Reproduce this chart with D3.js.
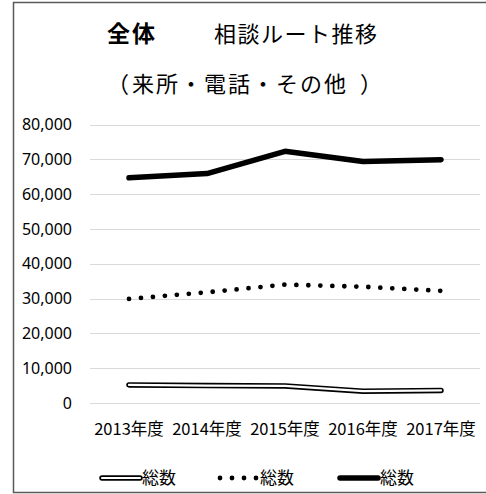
<!DOCTYPE html>
<html>
<head>
<meta charset="utf-8">
<script src="https://cdn.jsdelivr.net/npm/d3@7"></script>
<style>
  body { margin: 0; background: #fff; }
  svg { display: block; }
  text { font-family: "Noto Sans CJK JP", "Noto Sans", sans-serif; fill: #000; }
</style>
</head>
<body>
<svg id="chart" width="486" height="494"></svg>
<script>
// data
var years = ["2013年度", "2014年度", "2015年度", "2016年度", "2017年度"]
var raihoValues = [5200, 5000, 4900, 3400, 3600]        // double line
var denwaValues = [29900, 31800, 34000, 33400, 32200]   // dotted line
var totalValues = [64700, 65900, 72300, 69400, 69900]   // thick line
var seriesNames = ["総数", "総数", "総数"]
var yTicks = [0, 10000, 20000, 30000, 40000, 50000, 60000, 70000, 80000]

var svg = d3.select("#chart")

// chart frame
svg.append("rect")
  .attr("x", 13.5).attr("y", 2.5)
  .attr("width", 480).attr("height", 490)
  .attr("fill", "#fff")
  .attr("stroke", "#595959")
  .attr("stroke-width", 1.5)

// title
svg.append("text")
  .attr("x", 107).attr("y", 42)
  .style("font-size", "23px").style("font-weight", "bold")
  .style("letter-spacing", "2px")
  .text("全体")
svg.append("text")
  .attr("x", 214).attr("y", 42)
  .style("font-size", "22px")
  .style("letter-spacing", "1.5px")
  .text("相談ルート推移")
var sub = svg.append("text")
  .attr("y", 92)
  .style("font-size", "22px")
  .style("letter-spacing", "2px")
sub.append("tspan").attr("x", 107).text("（")
sub.append("tspan").attr("x", 132).text("来所・電話・その他")
sub.append("tspan").attr("x", 360).text("）")

var x = d3.scaleBand().domain(years).range([90, 480])
var y = d3.scaleLinear().domain([0, 80000]).range([403, 124.5])

// gridlines
svg.append("g")
  .selectAll("line")
  .data(yTicks)
  .enter()
  .append("line")
  .attr("x1", 90).attr("x2", 480)
  .attr("y1", function (d) { return Math.round(y(d)) + 0.5 })
  .attr("y2", function (d) { return Math.round(y(d)) + 0.5 })
  .attr("stroke", "#d9d9d9")
  .attr("stroke-width", 1)

// y axis labels
var yAxis = d3.axisLeft(y).tickValues(yTicks).tickSize(0).tickPadding(0)
  .tickFormat(d3.format(","))
svg.append("g")
  .attr("transform", "translate(72,0)")
  .call(yAxis)
  .call(function (g) { g.select(".domain").remove() })
  .selectAll("text")
  .style("font-family", "'Noto Sans', sans-serif")
  .style("font-size", "16px")
  .attr("fill", "#000")

// x axis labels
var xAxis = d3.axisBottom(x).tickSize(0).tickPadding(0)
svg.append("g")
  .attr("transform", "translate(0,423)")
  .call(xAxis)
  .call(function (g) { g.select(".domain").remove() })
  .selectAll("text")
  .style("font-family", "'Noto Sans CJK JP', sans-serif")
  .style("font-size", "16.5px")
  .attr("fill", "#000")

var line = d3.line()
  .x(function (d, i) { return x(years[i]) + x.bandwidth() / 2 })
  .y(function (d) { return y(d) })

// double line (black outline, white core)
svg.append("path").datum(raihoValues)
  .attr("d", line).attr("fill", "none")
  .attr("stroke", "#000").attr("stroke-width", 5.5)
  .attr("stroke-linecap", "round").attr("stroke-linejoin", "round")
svg.append("path").datum(raihoValues)
  .attr("d", line).attr("fill", "none")
  .attr("stroke", "#fff").attr("stroke-width", 2.2)
  .attr("stroke-linecap", "round").attr("stroke-linejoin", "round")

// dotted line
svg.append("path").datum(denwaValues)
  .attr("d", line).attr("fill", "none")
  .attr("stroke", "#000").attr("stroke-width", 4.8)
  .attr("stroke-linecap", "round")
  .attr("stroke-dasharray", "0 12")

// thick line
svg.append("path").datum(totalValues)
  .attr("d", line).attr("fill", "none")
  .attr("stroke", "#000").attr("stroke-width", 5.5)
  .attr("stroke-linecap", "round").attr("stroke-linejoin", "round")

// legend
var legendX = [100, 218, 338]
var legend = svg.append("g")
seriesNames.forEach(function (name, i) {
  var g = legend.append("g").attr("transform", "translate(" + legendX[i] + ",478)")
  if (i === 0) {
    g.append("line").attr("x1", 2).attr("x2", 40)
      .attr("stroke", "#000").attr("stroke-width", 5.5).attr("stroke-linecap", "round")
    g.append("line").attr("x1", 2).attr("x2", 40)
      .attr("stroke", "#fff").attr("stroke-width", 2.2).attr("stroke-linecap", "round")
  } else if (i === 1) {
    g.append("line").attr("x1", 2).attr("x2", 42)
      .attr("stroke", "#000").attr("stroke-width", 4.8).attr("stroke-linecap", "round")
      .attr("stroke-dasharray", "0 12")
  } else {
    g.append("line").attr("x1", 2).attr("x2", 40)
      .attr("stroke", "#000").attr("stroke-width", 5.5).attr("stroke-linecap", "round")
  }
  g.append("text")
    .attr("x", 42).attr("y", 6)
    .style("font-size", "17px")
    .text(name)
})
</script>
</body>
</html>
